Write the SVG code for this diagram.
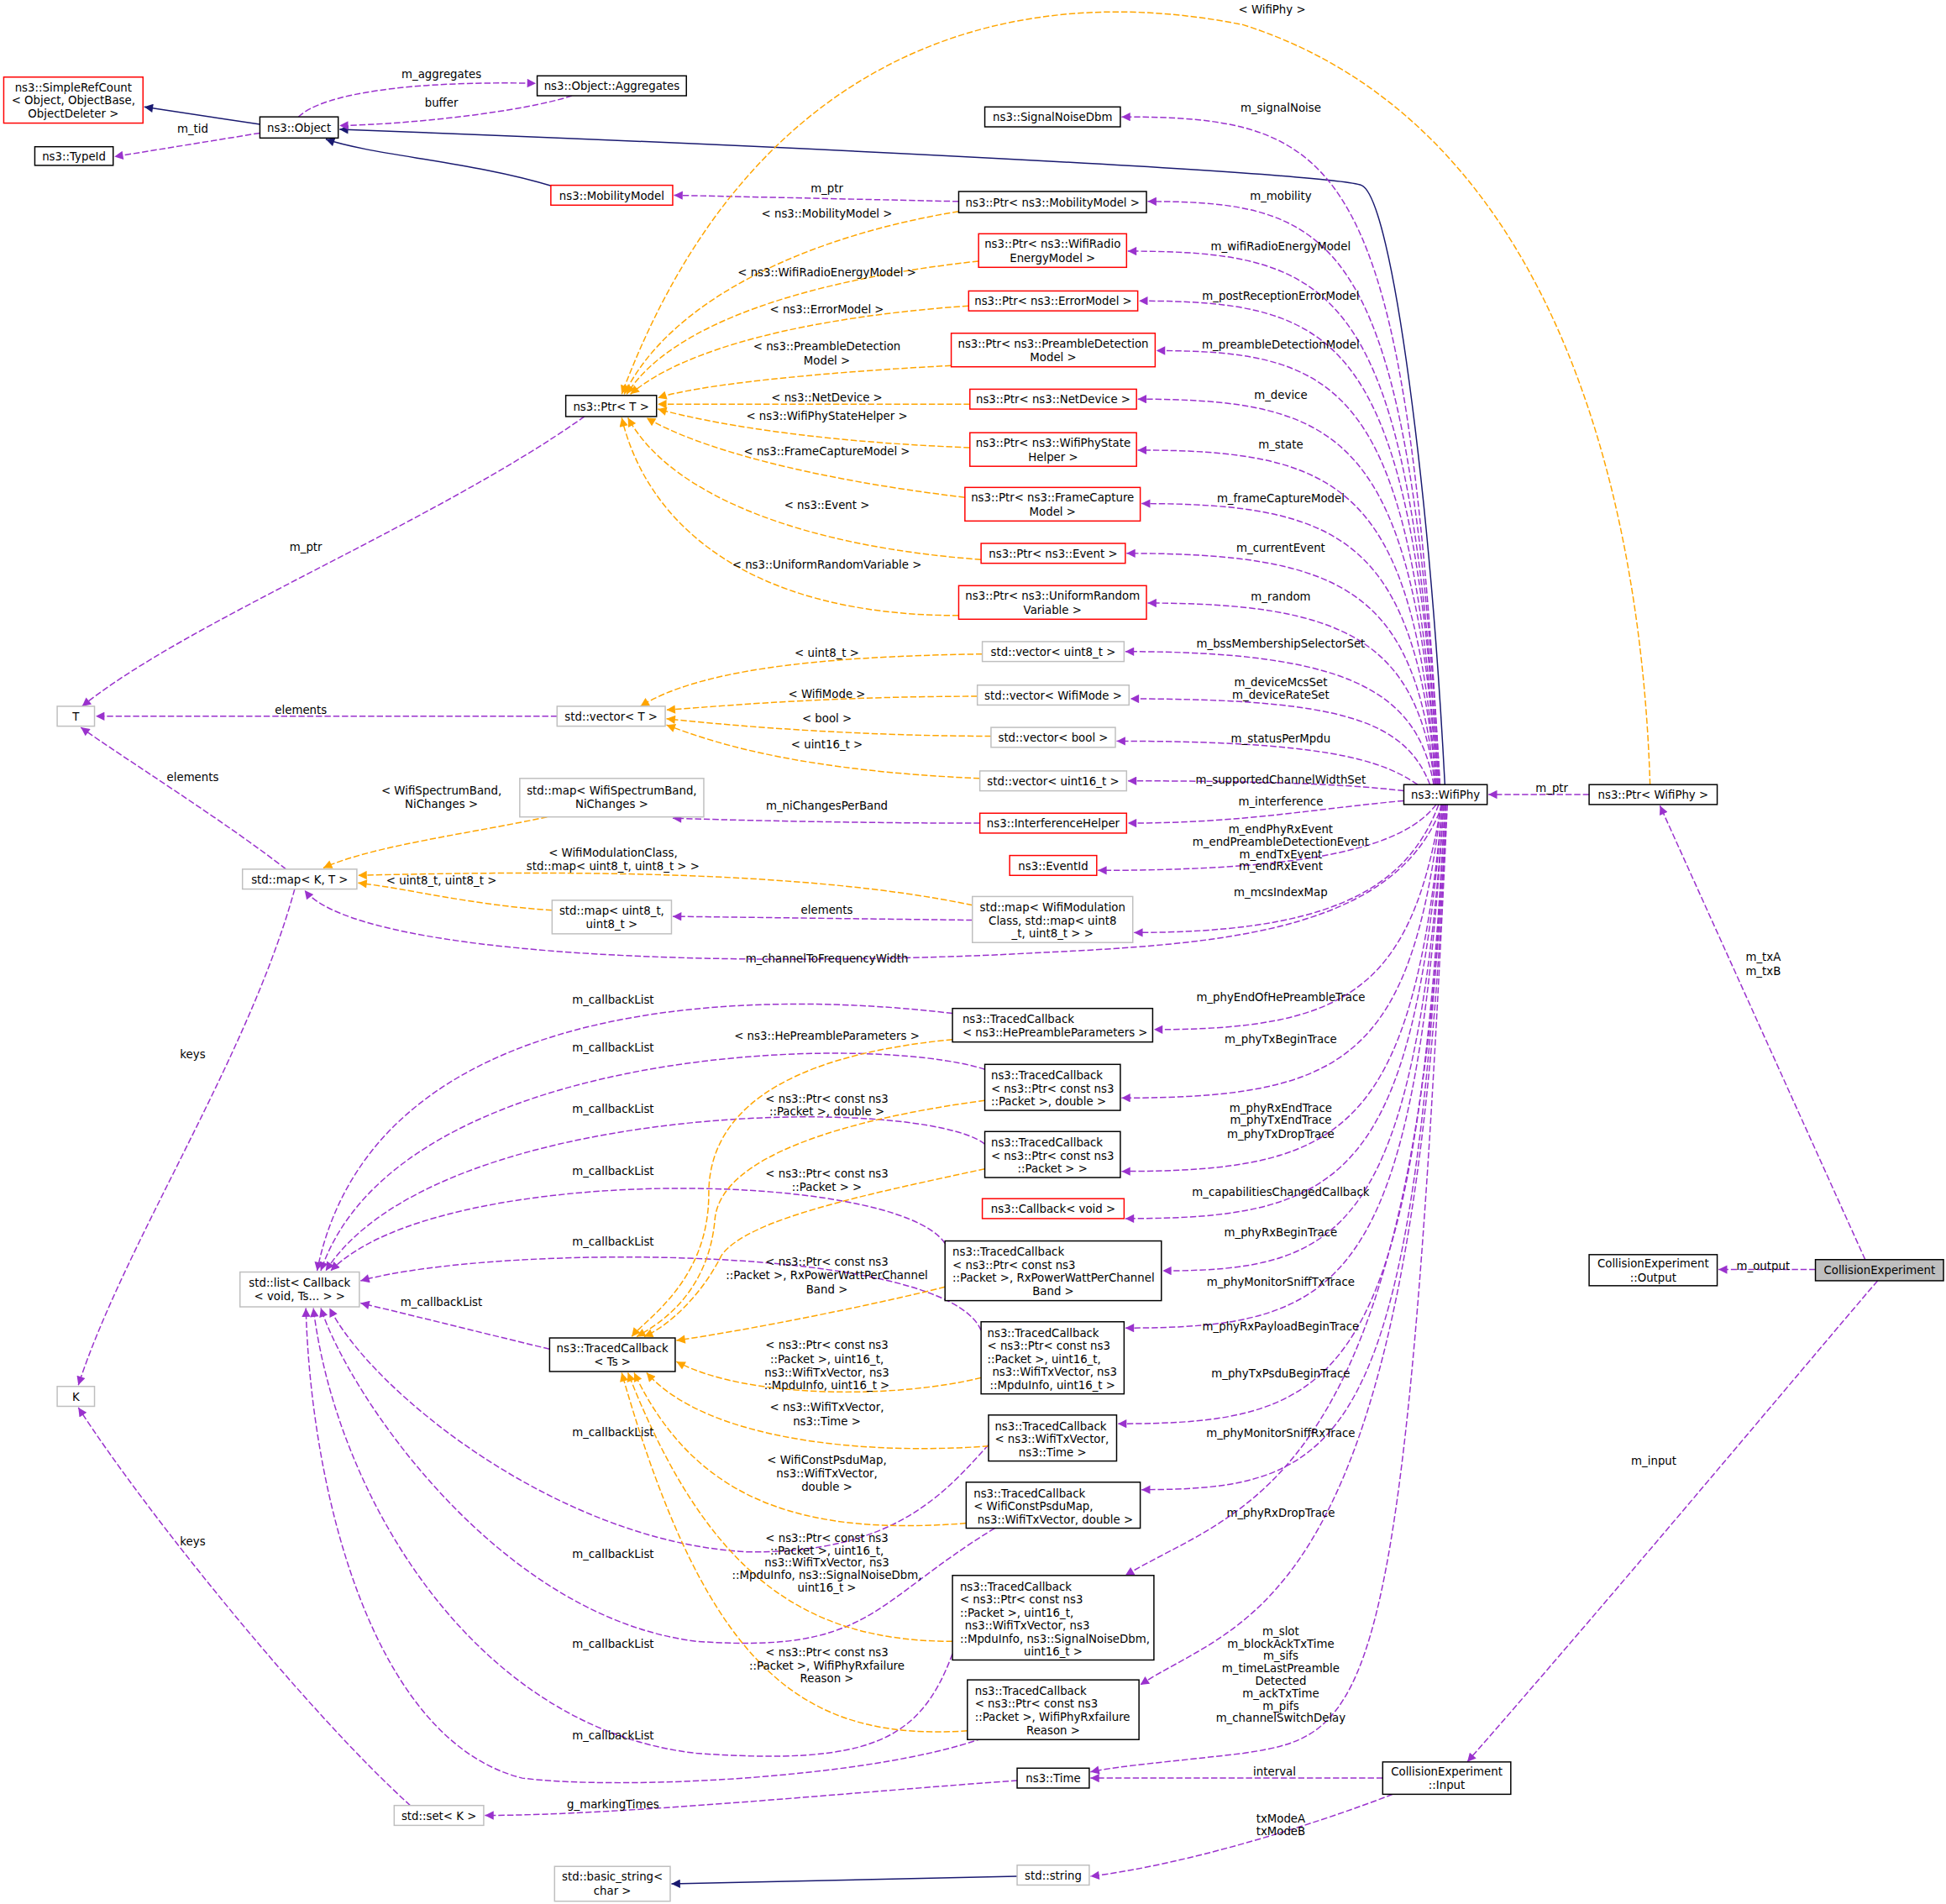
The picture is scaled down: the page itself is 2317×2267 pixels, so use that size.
<svg xmlns="http://www.w3.org/2000/svg" width="2317" height="2267" viewBox="0 0 2317 2267">
<defs>
<style>
text{font-family:"DejaVu Sans","Liberation Sans",sans-serif;font-size:9px;fill:#000;text-anchor:middle}
.la text,text.lt{text-anchor:start}
rect{fill:#fff;stroke-width:1}
.k rect{stroke:#000}
.r rect{stroke:#ff0000}
.g rect{stroke:#bfbfbf}
.e path{fill:none;stroke:#9a32cd;stroke-dasharray:5,2}
.o path{fill:none;stroke:#ffa500;stroke-dasharray:5,2}
.b path{fill:none;stroke:#191970}
.e path{marker-end:url(#mp)}
.o path{marker-end:url(#mo)}
.b path{marker-end:url(#mb)}
</style>
<marker id="mp" viewBox="0 0 10 10" refX="10" refY="5" markerUnits="userSpaceOnUse" markerWidth="9" markerHeight="7" orient="auto"><path d="M0,0L10,5L0,10z" fill="#9a32cd"/></marker>
<marker id="mo" viewBox="0 0 10 10" refX="10" refY="5" markerUnits="userSpaceOnUse" markerWidth="9" markerHeight="7" orient="auto"><path d="M0,0L10,5L0,10z" fill="#ffa500"/></marker>
<marker id="mb" viewBox="0 0 10 10" refX="10" refY="5" markerUnits="userSpaceOnUse" markerWidth="9" markerHeight="7" orient="auto"><path d="M0,0L10,5L0,10z" fill="#191970"/></marker>
</defs>
<rect x="0" y="0" width="2317" height="2267" fill="#fff" stroke="none"/>
<g transform="scale(1.4805)">
<g id="edges">
<g class="b">
<path d="M209,100L116,86"/>
<path d="M445,150C380,130 300,125 262,112"/>
<path d="M1162,631C1150,400 1120,160 1095,149C1070,140 700,120 273,104"/>
<path d="M818,1509L540,1515"/>
</g>
<g class="e">
<path d="M240,94C260,75 330,65 431,67"/>
<path d="M460,77C420,90 330,100 273,101"/>
<path d="M209,107L92,126"/>
<path d="M771,162L542,157"/>
<path d="M470,335C350,420 150,500 66,568"/>
<path d="M448,576L77,576"/>
<path d="M230,699C180,660 100,610 65,585"/>
<path d="M237,715C200,850 100,1000 63,1114"/>
<path d="M330,1452C250,1380 120,1220 63,1132"/>
<path d="M442,1085C380,1070 320,1055 290,1048"/>
<path d="M766,815C600,795 300,800 255,1022"/>
<path d="M792,860C700,830 320,840 258,1022"/>
<path d="M792,920C740,880 350,885 262,1022"/>
<path d="M760,1000C720,940 350,935 266,1022"/>
<path d="M789,1070C760,1000 400,1000 290,1030"/>
<path d="M795,1162C760,1200 720,1250 600,1248C450,1240 300,1120 265,1052"/>
<path d="M800,1229C700,1290 700,1330 560,1320C400,1300 280,1120 258,1052"/>
<path d="M766,1330C740,1400 700,1420 560,1410C380,1390 270,1200 252,1052"/>
<path d="M790,1398C700,1430 500,1440 420,1430C300,1400 250,1200 246,1052"/>
<path d="M788,662C700,662 600,660 541,658"/>
<path d="M782,740L541,737"/>
<path d="M818,1432C700,1440 500,1460 390,1460"/>
<path d="M1112,1430L877,1430"/>
<path d="M1120,1443C1050,1470 950,1500 877,1509"/>
<path d="M1278,639L1197,639"/>
<path d="M1500,1013L1335,648"/>
<path d="M1460,1021L1382,1021"/>
<path d="M1510,1030C1450,1100 1300,1280 1180,1417"/>
<path d="M1158,631C1130,124 1080,94 902,94"/>
<path d="M1158,631C1132,192 1080,162 923,162"/>
<path d="M1157,631C1133,232 1080,202 907,202"/>
<path d="M1157,631C1134,272 1080,242 916,242"/>
<path d="M1156,631C1135,312 1080,282 930,282"/>
<path d="M1156,631C1136,351 1080,321 915,321"/>
<path d="M1155,631C1137,392 1080,362 915,362"/>
<path d="M1155,631C1138,435 1080,405 918,405"/>
<path d="M1154,631C1139,475 1080,445 906,445"/>
<path d="M1154,631C1140,515 1080,485 923,485"/>
<path d="M1153,631C1140,554 1080,524 905,524"/>
<path d="M1150,631C1130,580 1080,562 909,562"/>
<path d="M1140,631C1110,610 1060,596 898,596"/>
<path d="M1129,636C1080,630 1000,628 907,628"/>
<path d="M1129,644C1060,650 1000,662 907,662"/>
<path d="M1155,647C1130,680 1060,700 883,700"/>
<path d="M1157,647C1130,720 1060,750 912,750"/>
<path d="M1160,647C1120,760 950,760 800,768C500,780 280,760 245,716"/>
<path d="M1159,647C1135,798 1080,828 928,828"/>
<path d="M1159,647C1135,853 1080,883 902,883"/>
<path d="M1160,647C1136,912 1080,942 902,942"/>
<path d="M1160,647C1136,950 1080,980 905,980"/>
<path d="M1161,647C1137,992 1080,1022 935,1022"/>
<path d="M1161,647C1137,1038 1080,1068 905,1068"/>
<path d="M1162,647C1138,1115 1080,1145 899,1145"/>
<path d="M1162,647C1138,1168 1080,1198 918,1198"/>
<path d="M1163,647C1140,1200 1000,1210 905,1267"/>
<path d="M1163,647C1140,1300 1000,1300 917,1355"/>
<path d="M1164,647C1130,1380 1100,1395 1000,1410C950,1416 900,1420 877,1425"/>
</g>
<g class="o">
<path d="M1327,631C1320,400 1250,100 1000,20C800,-20 600,50 500,317"/>
<path d="M771,170C650,190 540,240 502,317"/>
<path d="M787,210C650,225 540,260 504,317"/>
<path d="M779,246C650,255 550,280 507,317"/>
<path d="M765,294C650,300 560,310 529,320"/>
<path d="M780,325L529,325"/>
<path d="M780,360C650,355 570,340 529,329"/>
<path d="M776,400C650,385 560,360 520,336"/>
<path d="M789,450C650,440 540,400 505,336"/>
<path d="M771,495C600,495 520,420 500,336"/>
<path d="M790,526C650,528 560,540 515,568"/>
<path d="M786,560C680,560 600,566 536,571"/>
<path d="M797,592C700,592 600,585 536,578"/>
<path d="M788,626C650,620 580,600 536,583"/>
<path d="M440,657C380,670 300,680 260,698"/>
<path d="M782,728C650,700 450,700 288,704"/>
<path d="M444,732C380,728 330,715 288,710"/>
<path d="M766,836C620,850 570,900 570,960C570,1030 520,1060 508,1075"/>
<path d="M792,885C680,900 580,930 575,980C570,1040 530,1065 512,1075"/>
<path d="M792,940C700,960 600,980 580,1010C565,1040 540,1065 518,1075"/>
<path d="M760,1035C700,1050 600,1070 544,1078"/>
<path d="M789,1108C720,1125 600,1125 544,1095"/>
<path d="M795,1163C700,1170 570,1160 520,1104"/>
<path d="M777,1225C650,1235 560,1210 510,1104"/>
<path d="M766,1320C650,1320 570,1270 505,1104"/>
<path d="M778,1392C650,1400 570,1350 500,1104"/>
</g>
<g id="labels">
<text x="355" y="63">m_aggregates</text>
<text x="355" y="86">buffer</text>
<text x="155" y="107">m_tid</text>
<text x="665" y="155">m_ptr</text>
<text x="246" y="443">m_ptr</text>
<text x="242" y="574">elements</text>
<text x="155" y="628">elements</text>
<text x="155" y="851">keys</text>
<text x="155" y="1243">keys</text>
<text x="355" y="1050">m_callbackList</text>
<text x="493" y="807">m_callbackList</text>
<text x="493" y="846">m_callbackList</text>
<text x="493" y="895">m_callbackList</text>
<text x="493" y="945">m_callbackList</text>
<text x="493" y="1002">m_callbackList</text>
<text x="493" y="1155">m_callbackList</text>
<text x="493" y="1253">m_callbackList</text>
<text x="493" y="1325">m_callbackList</text>
<text x="493" y="1399">m_callbackList</text>
<text x="665" y="651">m_niChangesPerBand</text>
<text x="665" y="735">elements</text>
<text x="493" y="1454">g_markingTimes</text>
<text x="1025" y="1428">interval</text>
<text x="1030" y="1466">txModeA</text>
<text x="1030" y="1476">txModeB</text>
<text x="1248" y="637">m_ptr</text>
<text x="1418" y="773">m_txA</text>
<text x="1418" y="784">m_txB</text>
<text x="1418" y="1021">m_output</text>
<text x="1330" y="1178">m_input</text>
<text x="1030" y="90">m_signalNoise</text>
<text x="1030" y="161">m_mobility</text>
<text x="1030" y="201">m_wifiRadioEnergyModel</text>
<text x="1030" y="241">m_postReceptionErrorModel</text>
<text x="1030" y="280">m_preambleDetectionModel</text>
<text x="1030" y="321">m_device</text>
<text x="1030" y="361">m_state</text>
<text x="1030" y="404">m_frameCaptureModel</text>
<text x="1030" y="444">m_currentEvent</text>
<text x="1030" y="483">m_random</text>
<text x="1030" y="521">m_bssMembershipSelectorSet</text>
<text x="1030" y="552">m_deviceMcsSet</text>
<text x="1030" y="562">m_deviceRateSet</text>
<text x="1030" y="597">m_statusPerMpdu</text>
<text x="1030" y="630">m_supportedChannelWidthSet</text>
<text x="1030" y="648">m_interference</text>
<text x="1030" y="670">m_endPhyRxEvent</text>
<text x="1030" y="680">m_endPreambleDetectionEvent</text>
<text x="1030" y="690">m_endTxEvent</text>
<text x="1030" y="700">m_endRxEvent</text>
<text x="1030" y="721">m_mcsIndexMap</text>
<text x="665" y="774">m_channelToFrequencyWidth</text>
<text x="1030" y="805">m_phyEndOfHePreambleTrace</text>
<text x="1030" y="839">m_phyTxBeginTrace</text>
<text x="1030" y="894">m_phyRxEndTrace</text>
<text x="1030" y="904">m_phyTxEndTrace</text>
<text x="1030" y="915">m_phyTxDropTrace</text>
<text x="1030" y="962">m_capabilitiesChangedCallback</text>
<text x="1030" y="994">m_phyRxBeginTrace</text>
<text x="1030" y="1034">m_phyMonitorSniffTxTrace</text>
<text x="1030" y="1070">m_phyRxPayloadBeginTrace</text>
<text x="1030" y="1108">m_phyTxPsduBeginTrace</text>
<text x="1030" y="1156">m_phyMonitorSniffRxTrace</text>
<text x="1030" y="1220">m_phyRxDropTrace</text>
<text x="1030" y="1315">m_slot</text>
<text x="1030" y="1325">m_blockAckTxTime</text>
<text x="1030" y="1335">m_sifs</text>
<text x="1030" y="1345">m_timeLastPreamble</text>
<text x="1030" y="1355">Detected</text>
<text x="1030" y="1365">m_ackTxTime</text>
<text x="1030" y="1375">m_pifs</text>
<text x="1030" y="1385">m_channelSwitchDelay</text>
<text x="1023" y="11">&lt; WifiPhy &gt;</text>
<text x="665" y="175">&lt; ns3::MobilityModel &gt;</text>
<text x="665" y="222">&lt; ns3::WifiRadioEnergyModel &gt;</text>
<text x="665" y="252">&lt; ns3::ErrorModel &gt;</text>
<text x="665" y="282">&lt; ns3::PreambleDetection</text>
<text x="665" y="293">Model &gt;</text>
<text x="665" y="323">&lt; ns3::NetDevice &gt;</text>
<text x="665" y="338">&lt; ns3::WifiPhyStateHelper &gt;</text>
<text x="665" y="366">&lt; ns3::FrameCaptureModel &gt;</text>
<text x="665" y="409">&lt; ns3::Event &gt;</text>
<text x="665" y="457">&lt; ns3::UniformRandomVariable &gt;</text>
<text x="665" y="528">&lt; uint8_t &gt;</text>
<text x="665" y="561">&lt; WifiMode &gt;</text>
<text x="665" y="581">&lt; bool &gt;</text>
<text x="665" y="602">&lt; uint16_t &gt;</text>
<text x="355" y="639">&lt; WifiSpectrumBand,</text>
<text x="355" y="650">NiChanges &gt;</text>
<text x="493" y="689">&lt; WifiModulationClass,</text>
<text x="493" y="700">std::map&lt; uint8_t, uint8_t &gt; &gt;</text>
<text x="355" y="711">&lt; uint8_t, uint8_t &gt;</text>
<text x="665" y="836">&lt; ns3::HePreambleParameters &gt;</text>
<text x="665" y="887">&lt; ns3::Ptr&lt; const ns3</text>
<text x="665" y="897">::Packet &gt;, double &gt;</text>
<text x="665" y="947">&lt; ns3::Ptr&lt; const ns3</text>
<text x="665" y="958">::Packet &gt; &gt;</text>
<text x="665" y="1018">&lt; ns3::Ptr&lt; const ns3</text>
<text x="665" y="1029">::Packet &gt;, RxPowerWattPerChannel</text>
<text x="665" y="1040">Band &gt;</text>
<text x="665" y="1085">&lt; ns3::Ptr&lt; const ns3</text>
<text x="665" y="1096">::Packet &gt;, uint16_t,</text>
<text x="665" y="1107">ns3::WifiTxVector, ns3</text>
<text x="665" y="1117">::MpduInfo, uint16_t &gt;</text>
<text x="665" y="1135">&lt; ns3::WifiTxVector,</text>
<text x="665" y="1146">ns3::Time &gt;</text>
<text x="665" y="1177">&lt; WifiConstPsduMap,</text>
<text x="665" y="1188">ns3::WifiTxVector,</text>
<text x="665" y="1199">double &gt;</text>
<text x="665" y="1240">&lt; ns3::Ptr&lt; const ns3</text>
<text x="665" y="1250">::Packet &gt;, uint16_t,</text>
<text x="665" y="1260">ns3::WifiTxVector, ns3</text>
<text x="665" y="1270">::MpduInfo, ns3::SignalNoiseDbm,</text>
<text x="665" y="1280">uint16_t &gt;</text>
<text x="665" y="1332">&lt; ns3::Ptr&lt; const ns3</text>
<text x="665" y="1343">::Packet &gt;, WifiPhyRxfailure</text>
<text x="665" y="1353">Reason &gt;</text>
</g>
</g>
<g id="n_simplerefcount" class="r"><rect x="3" y="62" width="112" height="37"/><text x="59" y="73.5">ns3::SimpleRefCount</text><text x="59" y="84">&lt; Object, ObjectBase,</text><text x="59" y="94.5">ObjectDeleter &gt;</text></g>
<g id="n_typeid" class="k"><rect x="28" y="118" width="63" height="15"/><text x="59.5" y="129">ns3::TypeId</text></g>
<g id="n_object" class="k"><rect x="209" y="94" width="63" height="17"/><text x="240.5" y="106">ns3::Object</text></g>
<g id="n_aggregates" class="k"><rect x="432" y="61" width="120" height="16"/><text x="492" y="72.5">ns3::Object::Aggregates</text></g>
<g id="n_mobilitymodel" class="r"><rect x="443" y="149" width="98" height="16"/><text x="492" y="160.5">ns3::MobilityModel</text></g>
<g id="n_ptrT" class="k"><rect x="455" y="318" width="73" height="17"/><text x="491.5" y="330">ns3::Ptr&lt; T &gt;</text></g>
<g id="n_T" class="g"><rect x="46" y="568" width="30" height="16"/><text x="61" y="579.5">T</text></g>
<g id="n_vectorT" class="g"><rect x="448" y="568" width="87" height="16"/><text x="491.5" y="579.5">std::vector&lt; T &gt;</text></g>
<g id="n_mapKT" class="g"><rect x="195" y="699" width="92" height="16"/><text x="241" y="710.5">std::map&lt; K, T &gt;</text></g>
<g id="n_list" class="g"><rect x="193" y="1023" width="96" height="28"/><text x="241" y="1034.5">std::list&lt; Callback</text><text x="241" y="1045.5">&lt; void, Ts... &gt; &gt;</text></g>
<g id="n_K" class="g"><rect x="46" y="1115" width="30" height="16"/><text x="61" y="1126.5">K</text></g>
<g id="n_tcTs" class="k"><rect x="442" y="1076" width="101" height="27"/><text x="492.5" y="1087.5">ns3::TracedCallback</text><text x="492.5" y="1098.5">&lt; Ts &gt;</text></g>
<g id="n_setK" class="g"><rect x="317" y="1452" width="72" height="16"/><text x="353" y="1463.5">std::set&lt; K &gt;</text></g>
<g id="n_basicstring" class="g"><rect x="446" y="1501" width="93" height="28"/><text x="492.5" y="1512.5">std::basic_string&lt;</text><text x="492.5" y="1523.5">char &gt;</text></g>
<g id="n_mapspectrum" class="g"><rect x="418" y="626" width="148" height="31"/><text x="492" y="639">std::map&lt; WifiSpectrumBand,</text><text x="492" y="650">NiChanges &gt;</text></g>
<g id="n_mapuint8" class="g"><rect x="444" y="724" width="96" height="27"/><text x="492" y="735.5">std::map&lt; uint8_t,</text><text x="492" y="746.5">uint8_t &gt;</text></g>
<g id="n_signalnoise" class="k"><rect x="792" y="86" width="109" height="16"/><text x="846.5" y="97.5">ns3::SignalNoiseDbm</text></g>
<g id="n_ptrmobility" class="k"><rect x="771" y="154" width="151" height="17"/><text x="846.5" y="166">ns3::Ptr&lt; ns3::MobilityModel &gt;</text></g>
<g id="n_ptrradio" class="r"><rect x="787" y="188" width="119" height="27"/><text x="846.5" y="199.5">ns3::Ptr&lt; ns3::WifiRadio</text><text x="846.5" y="210.5">EnergyModel &gt;</text></g>
<g id="n_ptrerror" class="r"><rect x="779" y="234" width="136" height="16"/><text x="847" y="245.5">ns3::Ptr&lt; ns3::ErrorModel &gt;</text></g>
<g id="n_ptrpreamble" class="r"><rect x="765" y="268" width="164" height="27"/><text x="847" y="279.5">ns3::Ptr&lt; ns3::PreambleDetection</text><text x="847" y="290.5">Model &gt;</text></g>
<g id="n_ptrnetdevice" class="r"><rect x="780" y="313" width="134" height="16"/><text x="847" y="324.5">ns3::Ptr&lt; ns3::NetDevice &gt;</text></g>
<g id="n_ptrstate" class="r"><rect x="780" y="348" width="134" height="27"/><text x="847" y="359.5">ns3::Ptr&lt; ns3::WifiPhyState</text><text x="847" y="370.5">Helper &gt;</text></g>
<g id="n_ptrframe" class="r"><rect x="776" y="392" width="141" height="27"/><text x="846.5" y="403.5">ns3::Ptr&lt; ns3::FrameCapture</text><text x="846.5" y="414.5">Model &gt;</text></g>
<g id="n_ptrevent" class="r"><rect x="789" y="437" width="116" height="16"/><text x="847" y="448.5">ns3::Ptr&lt; ns3::Event &gt;</text></g>
<g id="n_ptrrandom" class="r"><rect x="771" y="471" width="151" height="27"/><text x="846.5" y="482.5">ns3::Ptr&lt; ns3::UniformRandom</text><text x="846.5" y="493.5">Variable &gt;</text></g>
<g id="n_vecuint8" class="g"><rect x="790" y="516" width="114" height="16"/><text x="847" y="527.5">std::vector&lt; uint8_t &gt;</text></g>
<g id="n_vecmode" class="g"><rect x="786" y="551" width="122" height="16"/><text x="847" y="562.5">std::vector&lt; WifiMode &gt;</text></g>
<g id="n_vecbool" class="g"><rect x="797" y="585" width="100" height="16"/><text x="847" y="596.5">std::vector&lt; bool &gt;</text></g>
<g id="n_vecuint16" class="g"><rect x="788" y="620" width="118" height="16"/><text x="847" y="631.5">std::vector&lt; uint16_t &gt;</text></g>
<g id="n_interference" class="r"><rect x="788" y="654" width="118" height="16"/><text x="847" y="665.5">ns3::InterferenceHelper</text></g>
<g id="n_eventid" class="r"><rect x="812" y="688" width="70" height="16"/><text x="847" y="699.5">ns3::EventId</text></g>
<g id="n_mapmod" class="g"><rect x="782" y="721" width="129" height="37"/><text x="846.5" y="733">std::map&lt; WifiModulation</text><text x="846.5" y="743.5">Class, std::map&lt; uint8</text><text x="846.5" y="754">_t, uint8_t &gt; &gt;</text></g>
<g id="n_tchepreamble" class="k"><rect x="766" y="811" width="161" height="27"/><text class="lt" x="774" y="822.5">ns3::TracedCallback</text><text class="lt" x="774" y="833.5">&lt; ns3::HePreambleParameters &gt;</text></g>
<g id="n_tcpktdouble" class="k"><rect x="792" y="856" width="109" height="37"/><text class="lt" x="797" y="868">ns3::TracedCallback</text><text class="lt" x="797" y="878.5">&lt; ns3::Ptr&lt; const ns3</text><text class="lt" x="797" y="889">::Packet &gt;, double &gt;</text></g>
<g id="n_tcpkt" class="k"><rect x="792" y="910" width="109" height="37"/><text class="lt" x="797" y="922">ns3::TracedCallback</text><text class="lt" x="797" y="932.5">&lt; ns3::Ptr&lt; const ns3</text><text x="846.5" y="943">::Packet &gt; &gt;</text></g>
<g id="n_callbackvoid" class="r"><rect x="790" y="964" width="114" height="16"/><text x="847" y="975.5">ns3::Callback&lt; void &gt;</text></g>
<g id="n_tcrxpower" class="k"><rect x="760" y="998" width="174" height="48"/><text class="lt" x="766" y="1010">ns3::TracedCallback</text><text class="lt" x="766" y="1020.5">&lt; ns3::Ptr&lt; const ns3</text><text class="lt" x="766" y="1031">::Packet &gt;, RxPowerWattPerChannel</text><text x="847" y="1041.5">Band &gt;</text></g>
<g id="n_tcmpdu" class="k"><rect x="789" y="1063" width="115" height="58"/><text class="lt" x="794" y="1075">ns3::TracedCallback</text><text class="lt" x="794" y="1085.5">&lt; ns3::Ptr&lt; const ns3</text><text class="lt" x="794" y="1096">::Packet &gt;, uint16_t,</text><text class="lt" x="798" y="1106.5">ns3::WifiTxVector, ns3</text><text class="lt" x="796" y="1117">::MpduInfo, uint16_t &gt;</text></g>
<g id="n_tctxtime" class="k"><rect x="795" y="1138" width="103" height="37"/><text class="lt" x="800" y="1150">ns3::TracedCallback</text><text class="lt" x="800" y="1160.5">&lt; ns3::WifiTxVector,</text><text x="846.5" y="1171">ns3::Time &gt;</text></g>
<g id="n_tcpsdu" class="k"><rect x="777" y="1192" width="140" height="37"/><text class="lt" x="783" y="1204">ns3::TracedCallback</text><text class="lt" x="783" y="1214.5">&lt; WifiConstPsduMap,</text><text class="lt" x="786" y="1225">ns3::WifiTxVector, double &gt;</text></g>
<g id="n_tcsnr" class="k"><rect x="766" y="1267" width="162" height="68"/><text class="lt" x="772" y="1279">ns3::TracedCallback</text><text class="lt" x="772" y="1289.5">&lt; ns3::Ptr&lt; const ns3</text><text class="lt" x="772" y="1300">::Packet &gt;, uint16_t,</text><text class="lt" x="776" y="1310.5">ns3::WifiTxVector, ns3</text><text class="lt" x="772" y="1321">::MpduInfo, ns3::SignalNoiseDbm,</text><text x="847" y="1331.5">uint16_t &gt;</text></g>
<g id="n_tcrxfail" class="k"><rect x="778" y="1351" width="138" height="48"/><text class="lt" x="784" y="1363">ns3::TracedCallback</text><text class="lt" x="784" y="1373.5">&lt; ns3::Ptr&lt; const ns3</text><text class="lt" x="784" y="1384">::Packet &gt;, WifiPhyRxfailure</text><text x="847" y="1394.5">Reason &gt;</text></g>
<g id="n_time" class="k"><rect x="818" y="1422" width="58" height="16"/><text x="847" y="1433.5">ns3::Time</text></g>
<g id="n_string" class="g"><rect x="818" y="1500" width="58" height="16"/><text x="847" y="1511.5">std::string</text></g>
<g id="n_wifiphy" class="k"><rect x="1129" y="631" width="67" height="16"/><text x="1162.5" y="642.5">ns3::WifiPhy</text></g>
<g id="n_ptrwifiphy" class="k"><rect x="1278" y="631" width="103" height="16"/><text x="1329.5" y="642.5">ns3::Ptr&lt; WifiPhy &gt;</text></g>
<g id="n_output" class="k"><rect x="1278" y="1009" width="103" height="25"/><text x="1329.5" y="1019.5">CollisionExperiment</text><text x="1329.5" y="1030.5">::Output</text></g>
<g id="n_collision" class="k"><rect x="1460" y="1013" width="103" height="17" style="fill:#bfbfbf"/><text x="1511.5" y="1025">CollisionExperiment</text></g>
<g id="n_input" class="k"><rect x="1112" y="1417" width="103" height="26"/><text x="1163.5" y="1428">CollisionExperiment</text><text x="1163.5" y="1439">::Input</text></g>
</g>
</svg>
